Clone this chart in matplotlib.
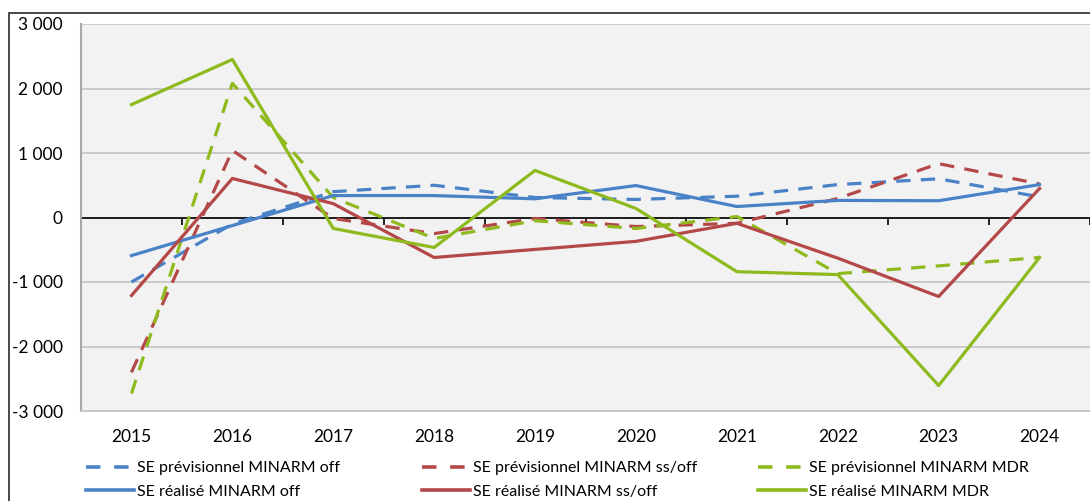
import matplotlib
matplotlib.use("Agg")
import matplotlib.pyplot as plt
from matplotlib.lines import Line2D
from matplotlib.patches import Rectangle
from matplotlib.ticker import FuncFormatter, FixedLocator

plt.rcParams['font.family'] = ['Lato', 'DejaVu Sans']

years = ['2015', '2016', '2017', '2018', '2019', '2020', '2021', '2022', '2023', '2024']

prev_off = [-1000, -100, 400, 500, 310, 280, 330, 510, 600, 320]
prev_ssoff = [-2400, 1040, -15, -250, -15, -140, -90, 295, 835, 520]
prev_mdr = [-2730, 2080, 310, -325, -50, -170, 15, -870, -750, -620]
real_off = [-590, -125, 340, 340, 290, 495, 170, 265, 260, 510]
real_ssoff = [-1210, 605, 215, -620, -495, -370, -90, -630, -1225, 450]
real_mdr = [1750, 2450, -170, -465, 730, 140, -840, -885, -2605, -620]

labels_prev = ['SE prévisionnel MINARM off', 'SE prévisionnel MINARM ss/off', 'SE prévisionnel MINARM MDR']
labels_real = ['SE réalisé MINARM off', 'SE réalisé MINARM ss/off', 'SE réalisé MINARM MDR']

c_blue = '#4A82C8'
c_red = '#B44848'
c_green = '#8FBA1E'

W, H = 1090, 501
fig = plt.figure(figsize=(W / 100, H / 100), dpi=100)

# outer border
fig.patches.append(Rectangle((9 / W, -0.1), 1.2, (H - 13) / H + 0.1, transform=fig.transFigure,
                             fill=False, edgecolor='#3a3a3a', linewidth=1.3, zorder=0))

ax = fig.add_axes([81 / W, (H - 411) / H, 1009 / W, 387 / H])
ax.set_facecolor('#F2F2F2')

x = list(range(len(years)))
lw = 2.3
dash = (4.5, 3.2)
series = [
    (prev_off, c_blue, True), (prev_ssoff, c_red, True), (prev_mdr, c_green, True),
    (real_off, c_blue, False), (real_ssoff, c_red, False), (real_mdr, c_green, False),
]
for vals, col, dashed in series:
    if dashed:
        ax.plot(x, vals, color=col, lw=lw, dashes=dash, zorder=3)
    else:
        ax.plot(x, vals, color=col, lw=lw, zorder=3)

ax.set_xlim(-0.5, len(years) - 0.5)
ax.set_ylim(-3000, 3000)
ax.set_yticks(range(-3000, 3001, 1000))
ax.yaxis.set_major_formatter(FuncFormatter(lambda v, p: f"{int(v):,}".replace(',', ' ')))
ax.grid(axis='y', color='#C6C6C6', lw=1.3, zorder=1)
ax.set_axisbelow(True)

ax.set_xticks(x)
ax.set_xticklabels(years)
ax.xaxis.set_minor_locator(FixedLocator([i - 0.5 for i in range(len(years) + 1)]))
ax.tick_params(axis='x', which='major', bottom=True, top=False, length=0, pad=13, labelsize=12.5)
ax.tick_params(axis='x', which='minor', bottom=False, top=True, direction='in', length=5,
               width=1.2, color='#000000')
ax.tick_params(axis='y', length=0, pad=13, labelsize=12.5)

for s in ['right']:
    ax.spines[s].set_visible(False)
ax.spines['top'].set_position(('data', 0))
ax.spines['top'].set_color('#000000')
ax.spines['top'].set_linewidth(1.2)
ax.spines['top'].set_zorder(2)
ax.spines['left'].set_color('#A8A8A8')
ax.spines['left'].set_linewidth(1.5)
ax.spines['bottom'].set_color('#C6C6C6')
ax.spines['bottom'].set_linewidth(1.3)

# legends: one per column
cols = [c_blue, c_red, c_green]
xs = [86, 422, 758]
for i in range(3):
    handles = [Line2D([], [], color=cols[i], lw=2.6, dashes=(4.0, 3.8)),
               Line2D([], [], color=cols[i], lw=2.6)]
    fig.legend(handles, [labels_prev[i], labels_real[i]], loc='upper left',
               bbox_to_anchor=(xs[i] / W, 1 - 461 / H), frameon=False, fontsize=11.5,
               handlelength=3.0, handletextpad=0.2, labelspacing=0.6, borderaxespad=0,
               borderpad=0)

fig.savefig('out.png', dpi=100)
